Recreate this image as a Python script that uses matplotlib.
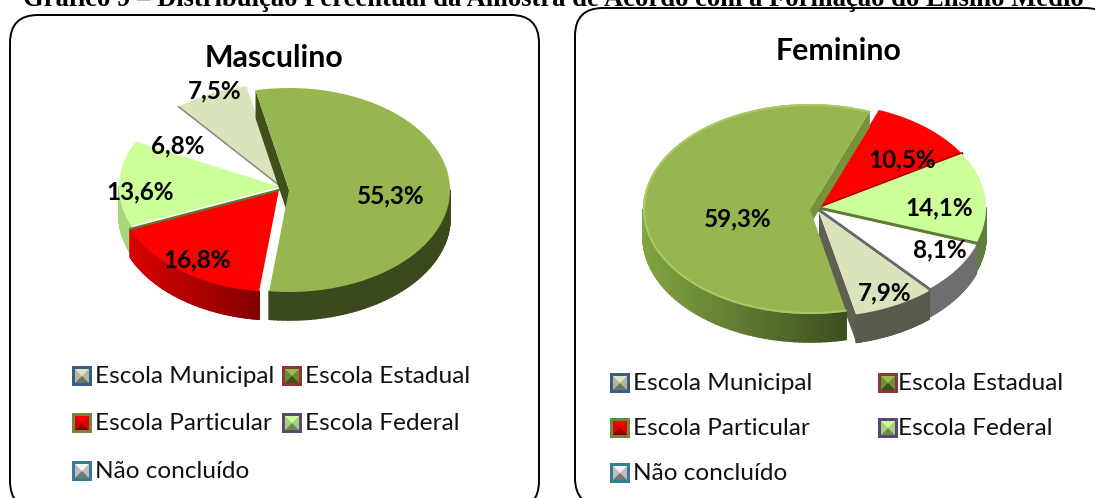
import numpy as np
import matplotlib
matplotlib.use('Agg')
import matplotlib.pyplot as plt
from matplotlib.collections import PolyCollection
from matplotlib.colors import to_rgb
from matplotlib.patches import FancyBboxPatch, Polygon

titulo = 'Gráfico 9 – Distribuição Percentual da Amostra de Acordo com a Formação do Ensino Médio'
legenda = ['Escola Municipal', 'Escola Estadual', 'Escola Particular', 'Escola Federal', 'Não concluído']

# fatias na ordem: estadual, particular, federal, nao concluido, municipal
masculino = [55.3, 16.8, 13.6, 6.8, 7.5]
feminino = [59.3, 10.5, 14.1, 8.1, 7.9]

FONTE = 'Lato'
W, H = 1095, 498
VERDE = '#97B64F'
VERDE_CLARO = '#CCFF99'
PALIDO = '#D9E4BC'


def arco(cx, cy, rx, ry, t1, t2, n=80):
    t = np.radians(np.linspace(t1, t2, n))
    return np.column_stack([cx + rx * np.cos(t), cy - ry * np.sin(t)])


def desenha_fatia(ax, c, rx, ry, prof, t1, t2, topo, lateral, z):
    # t1 > t2, sentido horario
    pts = arco(c[0], c[1], rx, ry, t1, t2)
    # parede lateral, so a parte da frente do arco
    ts = np.linspace(t1, t2, 120)
    quads, xs = [], []
    for a, b in zip(ts[:-1], ts[1:]):
        if np.sin(np.radians((a + b) / 2)) < 0:
            p = arco(c[0], c[1], rx, ry, a, b, 2)
            quads.append([p[0], p[1], p[1] + [0, prof], p[0] + [0, prof]])
            xs.append(p[:, 0].mean())
    if quads:
        xs = np.array(xs)
        f = (xs - xs.min()) / max(xs.max() - xs.min(), 1)
        c0, c1 = np.array(to_rgb(lateral[0])), np.array(to_rgb(lateral[1]))
        cores = [tuple(c0 + (c1 - c0) * v) for v in f]
        ax.add_collection(PolyCollection(quads, facecolors=cores, edgecolors=cores, linewidths=1.2, zorder=z))
    ax.add_patch(Polygon(np.vstack([c, pts]), closed=True, facecolor=topo, edgecolor='none', zorder=z + 0.2))
    return pts


def face(ax, c, ponto, prof, cor, z):
    ax.add_patch(Polygon([ponto, c, (c[0], c[1] + prof), (ponto[0], ponto[1] + prof)],
                         closed=True, facecolor=cor, edgecolor='none', zorder=z))


def rotulo(ax, x, y, v):
    ax.text(x, y, f'{v:.1f}%'.replace('.', ','), family=FONTE, fontsize=17.5, fontweight='bold',
            ha='center', va='center', color='black', zorder=20)


def amostra(ax, x, y, borda, cor, clara, escura):
    s = 20
    b = 3
    ax.add_patch(Polygon([(x, y), (x + s, y), (x + s, y + s), (x, y + s)], facecolor=borda, edgecolor='none', zorder=5))
    x0, y0, x1, y1 = x + b, y + b, x + s - b, y + s - b
    xm, ym = x + s / 2, y + s / 2
    ax.add_patch(Polygon([(x0, y0), (x1, y0), (x1, y1), (x0, y1)], facecolor=cor, edgecolor='none', zorder=6))
    ax.add_patch(Polygon([(x0, y0), (x1, y0), (xm, ym)], facecolor=clara, edgecolor='none', zorder=6))
    ax.add_patch(Polygon([(x0, y1), (x1, y1), (xm, ym)], facecolor=escura, edgecolor='none', zorder=6))


amostras = {
    'Escola Municipal': ('#385D8A', '#B4B89E', '#DDE5C3', '#6F7260'),
    'Escola Estadual': ('#8C3836', '#6F8A35', '#9BBB59', '#3F4F1E'),
    'Escola Particular': ('#71893F', '#E00000', '#FF0000', '#8B0000'),
    'Escola Federal': ('#5C4776', '#A8D080', '#CCFF99', '#6E8A50'),
    'Não concluído': ('#357D91', '#BDBDBD', '#F4F4F4', '#777777'),
}


def legenda_caixa(ax, xs_amostra, xs_texto, ys):
    pos = [(0, 0), (1, 0), (0, 1), (1, 1), (0, 2)]
    for nome, (col, lin) in zip(legenda, pos):
        amostra(ax, xs_amostra[col], ys[lin] - 10, *amostras[nome])
        ax.text(xs_texto[col], ys[lin], nome, family=FONTE, fontsize=17.6, ha='left', va='center', color='#111111', zorder=6)


fig = plt.figure(figsize=(W / 100, H / 100), dpi=100)
ax = fig.add_axes([0, 0, 1, 1])
ax.set_xlim(0, W)
ax.set_ylim(H, 0)
ax.axis('off')

ax.text(553, 6, titulo, family='Liberation Serif', fontsize=19.2, fontweight='bold', ha='center', va='baseline', color='black')

for (x0, y0, x1, y1) in [(10, 15, 539, 509), (575, 8, 1113, 506)]:
    ax.add_patch(FancyBboxPatch((x0 + 28, y0 + 28), x1 - x0 - 56, y1 - y0 - 56,
                                boxstyle='round,pad=28,rounding_size=28', facecolor='white',
                                edgecolor='black', linewidth=1.4, zorder=1))

ax.text(274, 58, 'Masculino', family=FONTE, fontsize=21.8, fontweight='bold', ha='center', va='center', zorder=20)
ax.text(839, 51, 'Feminino', family=FONTE, fontsize=21.8, fontweight='bold', ha='center', va='center', zorder=20)

# Masculino: horario a partir do verde
lim = 102 - np.cumsum([0] + masculino) * 3.6
rx, ry, d = 161, 102, 28
pts = desenha_fatia(ax, (280, 186), rx, ry, d, lim[4], lim[5], PALIDO, (PALIDO, PALIDO), 2)
ax.plot([pts[0, 0], 280], [pts[0, 1], 186], color='#8E8E80', lw=1.2, zorder=3)
desenha_fatia(ax, (280, 186), rx, ry, d, lim[3], lim[4], 'white', ('white', 'white'), 2.5)
desenha_fatia(ax, (280, 187), rx, ry, d, lim[2], lim[3], VERDE_CLARO, ('#A9D57F', '#A9D57F'), 3)
pts = desenha_fatia(ax, (279, 190), rx, ry, d, lim[1], lim[2], '#FF0000', ('#D80000', '#850000'), 4)
ax.plot([pts[-1, 0], 279], [pts[-1, 1], 190], color='#5F7530', lw=1.6, zorder=5)
pts = arco(289, 190, rx, ry, lim[0], lim[1])
face(ax, (289, 190), pts[0], d, '#3F4F1E', 5)
desenha_fatia(ax, (289, 190), rx, ry, d, lim[0], lim[1], VERDE, ('#3B4A1C', '#3B4A1C'), 5.5)

# Feminino: o verde termina onde comeca o vermelho (69 graus)
lim = 69 - np.cumsum([0] + feminino[1:]) * 3.6
rx, ry, d = 167, 105, 28
pts = desenha_fatia(ax, (819, 208), rx, ry, d, lim[0], lim[1], '#FF0000', ('#C00000', '#C00000'), 2)
ax.plot([pts[-1, 0], 819], [pts[-1, 1], 208], color='#A00000', lw=2, zorder=3)
pts = desenha_fatia(ax, (819, 208), rx, ry, d, lim[1], lim[2], VERDE_CLARO, ('#5E7D3E', '#5E7D3E'), 3)
ax.plot([pts[-1, 0], 819], [pts[-1, 1], 208], color='#5F7A3C', lw=2.2, zorder=4)
pts = desenha_fatia(ax, (819, 210), rx, ry, d, lim[2], lim[3], 'white', ('#6E6E6E', '#6E6E6E'), 4)
ax.plot([pts[-1, 0], 819], [pts[-1, 1], 210], color='#6A6A6A', lw=2.2, zorder=5)
pts = desenha_fatia(ax, (819, 212), rx, ry, d, lim[3], lim[4], PALIDO, ('#585A4B', '#585A4B'), 5)
face(ax, (819, 212), pts[-1], d, '#5F6052', 4.9)
ini = 69 + feminino[0] * 3.6
borda_verde = arco(810, 209, rx, ry, 69, 69, 2)[0]
face(ax, (810, 209), borda_verde, 16, '#76923C', 5.5)
desenha_fatia(ax, (810, 209), rx, ry, d, ini, 69, VERDE, ('#82A441', '#3E4F1F'), 6)
brilho = arco(810, 209, rx - 1, ry - 1, ini, 69)
ax.plot(brilho[:, 0], brilho[:, 1], color='#A9CA66', lw=1.4, zorder=6.5)

for (x, y), v in zip([(391, 196), (197, 260), (140, 192), (178, 146), (215, 91)], masculino):
    rotulo(ax, x, y, v)
for (x, y), v in zip([(738, 219), (902, 160), (939, 208), (940, 250), (885, 293)], feminino):
    rotulo(ax, x, y, v)

legenda_caixa(ax, (72, 282), (95, 305), (376, 423, 471))
legenda_caixa(ax, (610, 878), (633, 898), (383, 428, 473))

fig.savefig('out.png', dpi=100)
